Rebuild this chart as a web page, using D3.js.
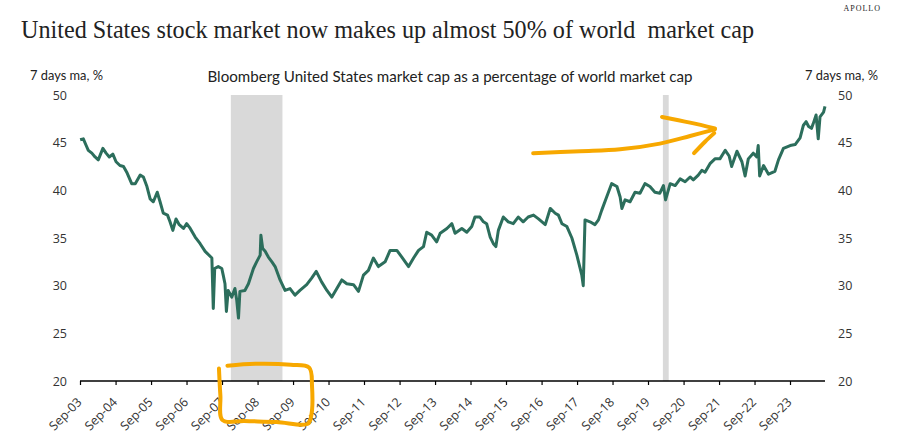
<!DOCTYPE html>
<html><head><meta charset="utf-8">
<script src="https://cdn.jsdelivr.net/npm/d3@7/dist/d3.min.js"></script>
<style>
html,body{margin:0;padding:0;background:#fff;}
svg{display:block;}
</style></head>
<body>
<svg id="chart" width="901" height="445"></svg>
<script>
// ---- data (decimal years, values in %) ----
const years = [
// 2003-2007
2003.67,2003.76,2003.84,2003.90,2004.00,2004.09,2004.18,2004.31,2004.40,2004.49,2004.59,2004.68,2004.79,2004.89,2004.98,2005.12,2005.22,2005.36,2005.45,2005.55,2005.64,2005.73,2005.84,2005.92,2006.01,2006.13,2006.20,2006.28,2006.37,2006.46,2006.58,2006.67,2006.77,2006.91,2007.05,2007.19,
// 2007-2017
2007.38,2007.42,2007.46,2007.56,2007.66,2007.70,2007.75,2007.79,2007.84,2007.94,2008.03,2008.08,2008.13,2008.17,2008.31,2008.41,2008.55,2008.64,2008.74,2008.76,
2008.81,2008.88,2008.97,2009.07,2009.16,2009.30,2009.44,2009.58,2009.72,2009.86,2010.05,2010.19,2010.32,2010.47,2010.62,2010.76,2010.90,2011.04,2011.18,2011.37,
2011.51,2011.65,2011.79,2011.93,2012.07,2012.26,2012.40,2012.59,2012.73,2012.92,2013.06,2013.20,2013.34,2013.43,2013.57,2013.71,2013.81,2014.00,2014.14,2014.23,
2014.42,2014.56,2014.70,2014.79,2014.93,2015.03,2015.12,2015.22,2015.31,2015.38,2015.45,2015.59,2015.73,2015.87,2016.01,2016.15,2016.29,2016.44,2016.58,2016.77,
2016.91,2017.05,2017.14,2017.24,2017.38,2017.52,2017.66,2017.80,2017.84,
// 2017-2021
2017.89,2018.03,2018.17,2018.27,2018.36,2018.50,2018.64,2018.79,2018.88,2018.93,2019.02,2019.16,2019.30,2019.44,2019.58,2019.72,2019.86,2020.00,2020.10,2020.16,
2020.29,2020.43,2020.57,2020.71,2020.85,2020.94,2021.08,2021.18,2021.27,2021.41,2021.55,
// 2021-2024
2021.69,2021.84,2021.95,2022.02,2022.17,2022.31,2022.40,2022.49,2022.63,2022.73,2022.77,2022.81,2022.92,2023.06,2023.24,2023.34,2023.48,2023.67,2023.81,2023.95,
2024.04,2024.12,2024.19,2024.27,2024.32,2024.40,2024.46,2024.51,2024.61,2024.65
];
const usShare = [
// 2003-2007
45.3,45.4,44.7,44.2,43.9,43.5,43.2,44.4,43.9,43.5,43.8,43.0,42.6,42.5,41.9,40.7,40.7,41.6,41.4,40.4,39.1,38.8,39.8,38.8,37.6,37.4,36.7,35.8,37.0,36.4,36.0,36.5,36.0,35.1,34.4,33.6,
// 2007-2017
32.9,27.6,31.8,32.0,31.8,31.1,30.2,27.3,29.5,28.8,29.7,28.5,26.6,29.4,29.5,30.2,31.8,32.5,33.2,35.3,
33.9,33.6,33.0,32.5,32.0,30.6,29.5,29.7,29.0,29.5,30.1,30.8,31.5,30.4,29.5,28.8,29.7,30.6,30.2,30.1,
29.4,31.1,31.6,32.9,32.0,32.5,33.7,33.7,33.0,32.0,32.9,33.7,34.1,35.6,35.3,34.6,35.5,36.0,36.5,35.5,
36.0,35.6,36.2,37.2,37.2,36.7,36.5,35.1,34.4,34.1,35.8,37.2,36.7,36.5,37.2,36.7,37.2,37.4,37.0,36.4,
38.1,37.6,37.4,36.5,36.2,35.0,33.2,31.1,30.0,
// 2017-2021
36.9,36.7,36.4,36.9,37.9,39.3,40.7,40.4,39.3,38.1,39.0,38.8,39.8,39.7,40.7,40.4,39.8,39.7,40.5,39.0,
40.7,40.5,41.2,40.9,41.4,41.1,41.6,42.1,41.9,42.8,43.3,
// 2021-2024
43.3,44.2,43.6,42.5,44.1,43.0,41.5,43.3,43.9,43.5,44.7,41.5,42.6,41.7,42.0,43.2,44.4,44.7,44.8,45.5,
46.8,47.2,46.7,46.5,47.0,47.9,45.4,47.7,48.2,48.8
];
const xStart = "2003-09-01";
const xEnd = "2024-08-26";
const tickDates = ["2003-09-01","2004-09-01","2005-09-01","2006-09-01","2007-09-01","2008-09-01","2009-09-01",
  "2010-09-01","2011-09-01","2012-09-01","2013-09-01","2014-09-01","2015-09-01","2016-09-01","2017-09-01",
  "2018-09-01","2019-09-01","2020-09-01","2021-09-01","2022-09-01","2023-09-01"];
const tickLabels = ["Sep-03","Sep-04","Sep-05","Sep-06","Sep-07","Sep-08","Sep-09","Sep-10","Sep-11","Sep-12",
  "Sep-13","Sep-14","Sep-15","Sep-16","Sep-17","Sep-18","Sep-19","Sep-20","Sep-21","Sep-22","Sep-23"];
const yTicks = [20,25,30,35,40,45,50];
const recessions = [["2007-12-01","2009-05-15"],["2020-02-01","2020-04-01"]];
// hand-drawn annotations in data space [decimal year, value]
const arrowShaft = [[2016.43,43.9],[2017.75,44.1],[2018.88,44.3],[2020.0,44.9],[2020.85,45.7],[2021.55,46.4]];
const arrowUpper = [[2020.06,47.7],[2020.85,47.1],[2021.55,46.5]];
const arrowLower = [[2020.96,43.9],[2021.27,45.1],[2021.53,46.0]];
const boxStroke = [[2007.82,21.6],[2008.6,21.8],[2009.6,21.7],[2010.12,21.4],[2010.2,19.5],[2010.17,16.2],[2010.08,15.5],[2009.2,15.7],[2008.3,15.8],[2007.68,15.9],[2007.62,18.5],[2007.58,21.3]];

// ---- helpers ----
const parse = d3.utcParse("%Y-%m-%d");
function yearToDate(y){const yr=Math.floor(y);const s=Date.UTC(yr,0,1),e=Date.UTC(yr+1,0,1);return new Date(s+(y-yr)*(e-s));}

const svg = d3.select("#chart");
const x = d3.scaleUtc().domain([parse(xStart), parse(xEnd)]).range([80,825]);
const y = d3.scaleLinear().domain([20,50]).range([381,95]);

const sans = "Lato, 'Open Sans', sans-serif";
const tickFont = "'Open Sans', Lato, sans-serif";

// recession shading
svg.append("g").selectAll("rect").data(recessions).join("rect")
  .attr("x", d=>x(parse(d[0]))).attr("width", d=>x(parse(d[1]))-x(parse(d[0])))
  .attr("y", y(50)).attr("height", y(20)-y(50)).attr("fill","#d9d9d9");

// line
const data = years.map((t,i)=>({date:yearToDate(t), v:usShare[i]}));
svg.append("path").datum(data)
  .attr("fill","none").attr("stroke","#2c6e5c").attr("stroke-width",3).attr("stroke-linejoin","round")
  .attr("d", d3.line().x(d=>x(d.date)).y(d=>y(d.v)));

// x axis
const xAxis = svg.append("g").attr("transform","translate(0,381)")
  .call(d3.axisBottom(x).tickValues(tickDates.map(parse)).tickSize(4).tickFormat((d,i)=>tickLabels[i]));
xAxis.select(".domain").attr("stroke","#000").attr("stroke-width",1.3).attr("d","M80,0H825");
xAxis.selectAll(".tick line").attr("stroke","#000").attr("stroke-width",1.2);
xAxis.selectAll(".tick text")
  .attr("font-family",tickFont).attr("font-size",12.5).attr("fill","#333")
  .attr("text-anchor","end").attr("dy",0).attr("y",0)
  .attr("transform","translate(2,22) rotate(-45)");

// y axes
const yl = svg.append("g").attr("transform","translate(80,0)")
  .call(d3.axisLeft(y).tickValues(yTicks).tickSize(0).tickPadding(13));
yl.select(".domain").remove();
yl.selectAll("text").attr("font-family",tickFont).attr("font-size",12.5).attr("fill","#333");
const yr = svg.append("g").attr("transform","translate(825,0)")
  .call(d3.axisRight(y).tickValues(yTicks).tickSize(0).tickPadding(13));
yr.select(".domain").remove();
yr.selectAll("text").attr("font-family",tickFont).attr("font-size",12.5).attr("fill","#333");

// annotations
const ann = d3.line().x(d=>x(yearToDate(d[0]))).y(d=>y(d[1])).curve(d3.curveCatmullRom);
const orange = "#f7a800";
[arrowShaft, arrowUpper, arrowLower, boxStroke].forEach(pts=>{
  svg.append("path").attr("d", ann(pts)).attr("fill","none").attr("stroke",orange)
    .attr("stroke-width",4).attr("stroke-linecap","round").attr("stroke-linejoin","round");
});

// texts
svg.append("text").attr("x",21).attr("y",38).attr("font-family","'Liberation Serif', serif")
  .attr("font-size",25).attr("fill","#222").attr("textLength",733).attr("lengthAdjust","spacingAndGlyphs")
  .style("white-space","pre")
  .text("United States stock market now makes up almost 50% of world  market cap");
svg.append("text").attr("x",881).attr("y",11).attr("text-anchor","end").attr("font-family","'Liberation Serif', serif")
  .attr("font-size",8).attr("letter-spacing",1).attr("fill","#222").text("APOLLO");
svg.append("text").attr("x",450).attr("y",82).attr("text-anchor","middle").attr("font-family",sans)
  .attr("font-size",15).attr("fill","#222").attr("textLength",485).attr("lengthAdjust","spacingAndGlyphs")
  .text("Bloomberg United States market cap as a percentage of world market cap");
svg.append("text").attr("x",30).attr("y",80).attr("font-family",sans).attr("font-size",13).attr("fill","#222")
  .attr("textLength",73).attr("lengthAdjust","spacingAndGlyphs").text("7 days ma, %");
svg.append("text").attr("x",878).attr("y",80).attr("text-anchor","end").attr("font-family",sans).attr("font-size",13).attr("fill","#222")
  .attr("textLength",73).attr("lengthAdjust","spacingAndGlyphs").text("7 days ma, %");
</script>
</body></html>
